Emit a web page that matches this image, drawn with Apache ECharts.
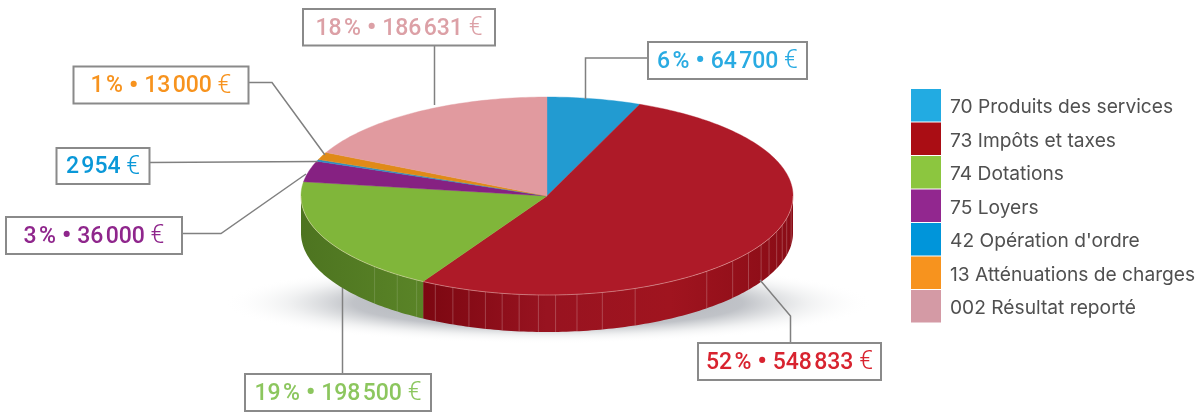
<!DOCTYPE html>
<html><head><meta charset="utf-8">
<style>html,body{margin:0;padding:0;background:#fff}#c{width:1202px;height:412px}</style>
<script src="https://cdn.jsdelivr.net/npm/echarts@6/dist/echarts.min.js"></script>
</head><body><div id="c"></div>
<script>
// ---- data ----
const categories = ['70 Produits des services','73 Impôts et taxes','74 Dotations','75 Loyers',"42 Opération d'ordre",'13 Atténuations de charges','002 Résultat reporté'];
const amounts = [64700,548833,198500,36000,2954,13000,186631];
const percentLabels = ['6 %','52 %','19 %','3 %','','1 %','18 %'];
// angles (degrees clockwise from the top of the disc) of the rib lines seen on the wall
const wallRibs = [97,103,107,111,115.5,119.5,125,131,139.5,159,167,173,178,182,186.5,190.5,194.5,198.5,202.5,207,212,217.5,224.5];

// ---- styles and layout ----
const topColors = ['#229bd1','#ae1a28','#80b63a','#862182','#2a8fc4','#e08a18','#e19a9f'];
const wallColors = [null,['#7c0711','#981320','#a0141f','#8a0c16'],['#4d7420','#5a8427'],null,null,null,null];
const legendColors = ['#22abe2','#aa0d14','#8cc63f','#92278f','#0095da','#f7931e','#d49aa5'];
const labelColors = ['#29abe2','#d8232f','#8cc65e','#8f268c','#0a98d8','#f7931e','#dca0a6'];
const boxes = {
  0:{b:[648,42,159,37],l:[[648,58],[585.5,58],[585.5,99]]},
  1:{b:[698,343,183,37],l:[[790.5,343],[790.5,316],[760,280]]},
  2:{b:[245,374,186,37],l:[[342.5,374],[342.5,288]]},
  3:{b:[6,217,176,37],l:[[182,233.5],[221,233.5],[306,174]]},
  4:{b:[56.5,148,93,36],l:[[149,162.5],[318,161.5]]},
  5:{b:[73.5,66.5,175,37],l:[[248,82.5],[272,82.5],[325,155]]},
  6:{b:[303,9,192,36.5],l:[[434.5,45],[434.5,105]]}
};
const CX=547, CY=196, RX=246, RY=99, DEPTH=37;
const total = amounts.reduce((a,b)=>a+b,0);
const starts = []; { let s=0; amounts.forEach(v=>{starts.push(s/total*360); s+=v;}); }
const pt=(deg,dy=0)=>{const t=deg*Math.PI/180;return [CX+RX*Math.sin(t),CY-RY*Math.cos(t)+dy];};
const arc=(a,b,dy=0)=>{const p=[];const n=Math.max(2,Math.ceil(Math.abs(b-a)));for(let i=0;i<=n;i++)p.push(pt(a+(b-a)*i/n,dy));return p;};

function sliceItem(i){
  const a=starts[i], b=a+amounts[i]/total*360, children=[];
  const wa=Math.max(a,90), wb=Math.min(b,270);
  if(wa<wb && wallColors[i]){
    const front=arc(wa,wb), back=arc(wa,wb,DEPTH).reverse();
    const cols=wallColors[i];
    const x0=pt(wb)[0], x1=pt(wa)[0];
    children.push({type:'polygon',shape:{points:front.concat(back)},
      style:{fill:new echarts.graphic.LinearGradient(x0,0,x1,0,cols.map((c,k)=>({offset:k/(cols.length-1),color:c})),true)}});
    wallRibs.filter(r=>r>wa&&r<wb).forEach(r=>{
      const p=pt(r);
      children.push({type:'line',shape:{x1:p[0],y1:p[1],x2:p[0],y2:p[1]+DEPTH},style:{stroke:i===2?'rgba(255,255,255,0.14)':'rgba(255,255,255,0.22)',lineWidth:1}});
    });
  }
  children.push({type:'polygon',shape:{points:[[CX,CY]].concat(arc(a,b))},
    style:{fill:topColors[i],stroke:topColors[i],lineWidth:0.4}});
  if(wa<wb && wallColors[i]){
    children.push({type:'polyline',shape:{points:arc(wa,wb)},style:{fill:null,stroke:'rgba(255,225,215,0.4)',lineWidth:1}});
  }
  return {type:'group',children};
}

const sliceSeries = categories.map((name,i)=>({
  type:'custom',name,coordinateSystem:'none',z:3,silent:true,
  data:[amounts[i]],animation:false,
  itemStyle:{color:legendColors[i]},
  renderItem:()=>sliceItem(i)
}));

const fmt=v=>String(v).replace(/\B(?=(\d{3})+$)/g,'\u200a');
function calloutItem(i){
  const c=boxes[i], [x,y,w,h]=c.b, col=labelColors[i];
  const pct=percentLabels[i]?percentLabels[i].replace(' ','\u200a'):'';
  const t=(pct?'{v|'+pct+' }{b|•}{v| }':'')+'{v|'+fmt(amounts[i])+' }{e|€}';
  const base={fontFamily:'Roboto',fontWeight:500,fontSize:23,fill:col,color:col};
  return {type:'group',children:[
    {type:'polyline',shape:{points:c.l},style:{fill:null,stroke:'#808080',lineWidth:1.5}},
    {type:'rect',shape:{x,y,width:w,height:h},style:{fill:'#fff',stroke:'#8a8a8a',lineWidth:2}},
    {type:'text',x:x+w/2,y:y+h/2+1.5,style:{
      text:t,align:'center',verticalAlign:'middle',
      rich:{v:base,b:Object.assign({},base,{fontSize:28}),
            e:Object.assign({},base,{fontWeight:300,fontSize:25})}}}
  ]};
}

const legendFont={fontFamily:'Inter',fontSize:19.2,color:'#505050'};
const option={
  animation:false,backgroundColor:'#fff',
  legend:{
    orient:'vertical',left:911,top:89,padding:0,icon:'rect',itemWidth:30,itemHeight:32.5,itemGap:1,selectedMode:false,
    formatter:'{n|{name}}',
    textStyle:Object.assign({},legendFont,{rich:{n:Object.assign({},legendFont,{padding:[4,0,0,4]})}}),
    data:categories.map((name,i)=>({name,icon:'rect',itemStyle:{color:legendColors[i]}}))
  },
  series:[
    {type:'custom',name:'ombre',coordinateSystem:'none',z:1,silent:true,data:[total],animation:false,
     renderItem:()=>({type:'circle',x:548,y:303,scaleY:0.125,shape:{cx:0,cy:0,r:325},
       style:{fill:new echarts.graphic.RadialGradient(0.5,0.5,0.5,[
         {offset:0,color:'rgba(120,125,135,0.7)'},{offset:0.6,color:'rgba(130,135,145,0.5)'},{offset:0.8,color:'rgba(165,170,175,0.16)'},{offset:1,color:'rgba(255,255,255,0)'}])}})},
    ...sliceSeries,
    {type:'custom',name:'étiquettes',coordinateSystem:'none',z:5,silent:true,animation:false,
     data:amounts,renderItem:(p)=>calloutItem(p.dataIndex)}
  ]
};
echarts.init(document.getElementById('c'),null,{renderer:'canvas'}).setOption(option);
</script></body></html>
